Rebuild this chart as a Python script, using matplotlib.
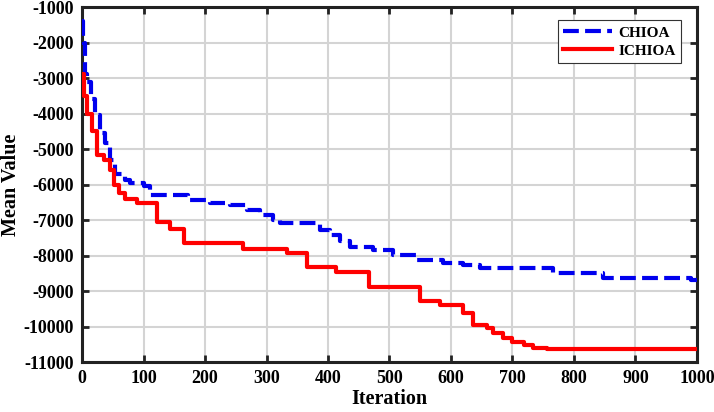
import matplotlib
matplotlib.use("Agg")
import matplotlib.pyplot as plt

# ICHIOA (red, solid) step curve: iteration breakpoints and mean values
ichioa_iter = [0, 3, 8, 16, 24, 35, 45, 52, 60, 70, 90, 122, 143, 165, 262, 333, 366, 413,
               466, 550, 582, 620, 636, 658, 669, 685, 699, 718, 734, 756, 1000]
ichioa_val = [-2900, -3500, -4000, -4500, -5170, -5300, -5600, -6000, -6250, -6400, -6520,
              -7050, -7250, -7640, -7800, -7930, -8320, -8460, -8890, -9280, -9400, -9620,
              -9960, -10040, -10180, -10320, -10430, -10520, -10600, -10630, -10630]

# CHIOA (blue, dashed) step curve
chioa_iter = [0, 2, 4, 8, 14, 21, 29, 37, 46, 54, 70, 78, 100, 111, 172, 208, 241, 268, 290,
              311, 322, 387, 403, 420, 436, 473, 506, 545, 587, 620, 647, 766, 847, 990, 1000]
chioa_val = [-1400, -2000, -2900, -3100, -3600, -4050, -4550, -4830, -5300, -5700, -5870,
             -5960, -6050, -6300, -6440, -6520, -6580, -6720, -6850, -7000, -7090, -7280,
             -7420, -7600, -7760, -7850, -7990, -8130, -8220, -8270, -8360, -8500, -8630,
             -8700, -8750]

x_ticks = [0, 100, 200, 300, 400, 500, 600, 700, 800, 900, 1000]
y_ticks = [-11000, -10000, -9000, -8000, -7000, -6000, -5000, -4000, -3000, -2000, -1000]

plt.rcParams['font.family'] = ['Liberation Serif', 'DejaVu Serif']
plt.rcParams['font.weight'] = 'bold'

fig = plt.figure(figsize=(7.14, 4.12), dpi=100)
ax = fig.add_axes([0.115, 0.121, 0.861, 0.862])

ax.plot(chioa_iter, chioa_val, drawstyle='steps-post', color='#0000ee', lw=3.0,
        dashes=(3.8, 1.5), label='CHIOA', zorder=3)
ax.plot(ichioa_iter, ichioa_val, drawstyle='steps-post', color='#ff0000', lw=3.0,
        label='ICHIOA', zorder=4)

ax.set_xlim(0, 1000)
ax.set_ylim(-11000, -1000)
ax.set_xticks(x_ticks)
ax.set_yticks(y_ticks)
ax.set_xticklabels([str(v) for v in x_ticks], fontsize=13, fontweight='bold')
ax.set_yticklabels([str(v) for v in y_ticks], fontsize=13, fontweight='bold')
ax.tick_params(direction='in', length=5, width=2, top=True, right=True, colors='#222222')
ax.tick_params(axis='x', pad=6)
ax.tick_params(axis='y', pad=6)
for tl in ax.get_xticklabels() + ax.get_yticklabels():
    tl.set_color('black')
for sp in ax.spines.values():
    sp.set_linewidth(2.2)
    sp.set_color('#222222')
ax.grid(True, color='#d4d4d4', lw=1.5)
ax.set_axisbelow(True)

ax.set_xlabel('Iteration', fontsize=14.5, fontweight='bold', labelpad=1)
ax.set_ylabel('Mean Value', fontsize=14.5, fontweight='bold', labelpad=2)

leg = ax.legend(loc='upper right', bbox_to_anchor=(0.974, 0.962), borderaxespad=0,
                frameon=True, fancybox=False, edgecolor='#333333', framealpha=1,
                handlelength=3.2, borderpad=0.35, labelspacing=0.3, handletextpad=0.4,
                prop={'weight': 'bold', 'size': 11})
leg.get_frame().set_linewidth(0.8)

fig.savefig('out.png', dpi=100)
